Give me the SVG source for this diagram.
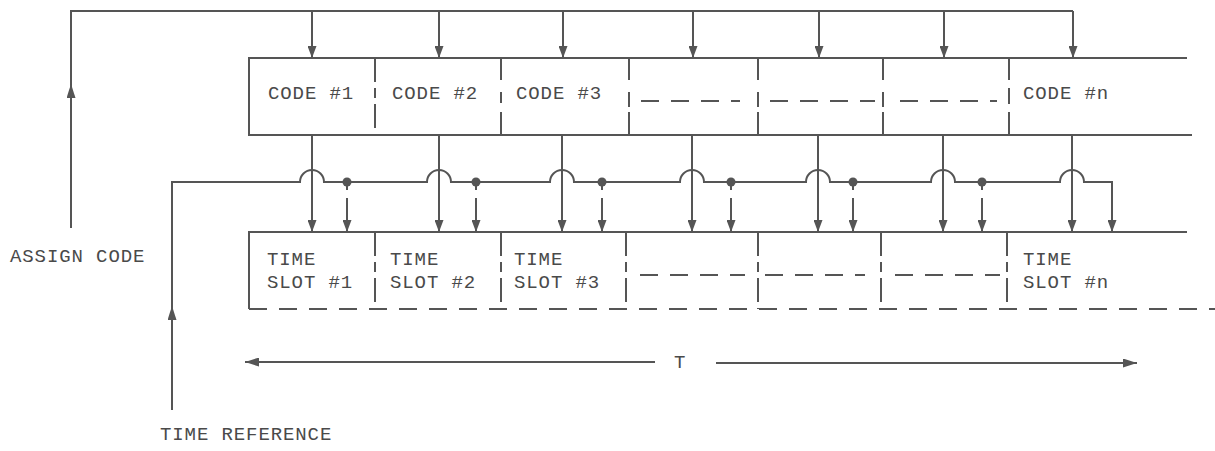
<svg xmlns="http://www.w3.org/2000/svg" width="1215" height="451" viewBox="0 0 1215 451">
<defs>
<marker id="ah" viewBox="0 0 12 9" refX="12" refY="4.5" markerWidth="12" markerHeight="9" markerUnits="userSpaceOnUse" orient="auto"><path d="M0,0 L12,4.5 L0,9 Z" fill="#555"/></marker>
<marker id="ahl" viewBox="0 0 14 9" refX="14" refY="4.5" markerWidth="14" markerHeight="9" markerUnits="userSpaceOnUse" orient="auto"><path d="M0,0 L14,4.5 L0,9 Z" fill="#555"/></marker>
<style>
.s{stroke:#555;stroke-width:2;fill:none}
.d{stroke:#555;stroke-width:2;fill:none;stroke-dasharray:18 12}
.dv{stroke:#555;stroke-width:2;fill:none;stroke-dasharray:24 6 10 6}
.t{font-family:"Liberation Mono",monospace;font-size:19px;fill:#4a4a4a;letter-spacing:0.9px}
</style>
</defs>
<g id="connectors">
<path class="s" d="M71,228 V11 H1073"/>
<path class="s" d="M71,228 V84" marker-end="url(#ahl)"/>
<path class="s" d="M312,11 V58" marker-end="url(#ah)"/>
<path class="s" d="M439,11 V58" marker-end="url(#ah)"/>
<path class="s" d="M563,11 V58" marker-end="url(#ah)"/>
<path class="s" d="M693,11 V58" marker-end="url(#ah)"/>
<path class="s" d="M819,11 V58" marker-end="url(#ah)"/>
<path class="s" d="M944,11 V58" marker-end="url(#ah)"/>
<path class="s" d="M1073,11 V58" marker-end="url(#ah)"/>
<path class="s" d="M312,136 V232" marker-end="url(#ah)"/>
<path class="s" d="M439,136 V232" marker-end="url(#ah)"/>
<path class="s" d="M562,136 V232" marker-end="url(#ah)"/>
<path class="s" d="M692,136 V232" marker-end="url(#ah)"/>
<path class="s" d="M818,136 V232" marker-end="url(#ah)"/>
<path class="s" d="M943,136 V232" marker-end="url(#ah)"/>
<path class="s" d="M1072,136 V232" marker-end="url(#ah)"/>
<path class="s" d="M172,410 V182 H300 A12,12 0 0 1 324,182 H427 A12,12 0 0 1 451,182 H550 A12,12 0 0 1 574,182 H680 A12,12 0 0 1 704,182 H806 A12,12 0 0 1 830,182 H931 A12,12 0 0 1 955,182 H1060 A12,12 0 0 1 1084,182 H1112 V232"/>
<path class="s" d="M172,410 V306" marker-end="url(#ahl)"/>
<path class="s" d="M1112,205 V232" marker-end="url(#ah)"/>
<path class="s" d="M347,182 V190 M476,182 V190 M602,182 V190 M731,182 V190 M853,182 V190 M982,182 V190"/>
<path class="s" d="M347,198 V232" marker-end="url(#ah)"/>
<path class="s" d="M476,198 V232" marker-end="url(#ah)"/>
<path class="s" d="M602,198 V232" marker-end="url(#ah)"/>
<path class="s" d="M731,198 V232" marker-end="url(#ah)"/>
<path class="s" d="M853,198 V232" marker-end="url(#ah)"/>
<path class="s" d="M982,198 V232" marker-end="url(#ah)"/>
<g fill="#555">
<circle cx="347" cy="182" r="4.5"/><circle cx="476" cy="182" r="4.5"/><circle cx="602" cy="182" r="4.5"/>
<circle cx="731" cy="182" r="4.5"/><circle cx="853" cy="182" r="4.5"/><circle cx="982" cy="182" r="4.5"/>
</g>
<path class="s" d="M655,362 H245" marker-end="url(#ahl)"/>
<path class="s" d="M716,363 H1137" marker-end="url(#ahl)"/>
<text class="t" x="674" y="368">T</text>
</g>
<g id="code-row">
<path class="s" d="M1187,58 H249 V135 H1192"/>
<path class="dv" d="M375,58 V135"/>
<path class="s" d="M501,58 V80 M501,92 V103 M501,112 V135"/>
<path class="s" d="M629,58 V80 M629,92 V107 M629,112 V135"/>
<path class="s" d="M758,58 V80 M758,92 V107 M758,112 V135"/>
<path class="s" d="M883,58 V80 M883,92 V107 M883,112 V135"/>
<path class="s" d="M1009,58 V80 M1009,88 V104 M1009,112 V135"/>
<path class="d" d="M641,101 H740 M770,101 H875 M900,101 H997"/>
<text class="t" x="268" y="99">CODE #1</text>
<text class="t" x="392" y="99">CODE #2</text>
<text class="t" x="516" y="99">CODE #3</text>
<text class="t" x="1023" y="99">CODE #n</text>
</g>
<g id="slot-row">
<path class="s" d="M1187,232 H249 V309"/>
<path class="d" d="M249,309 H1215"/>
<path class="dv" d="M375,232 V309"/>
<path class="dv" d="M501,232 V309"/>
<path class="dv" d="M626,232 V309"/>
<path class="dv" d="M758,232 V309"/>
<path class="dv" d="M881,232 V309"/>
<path class="dv" d="M1007,232 V309"/>
<path class="d" d="M640,275 H745 M765,275 H865 M895,275 H1000"/>
<text class="t" x="267" y="265">TIME</text>
<text class="t" x="267" y="288">SLOT #1</text>
<text class="t" x="390" y="265">TIME</text>
<text class="t" x="390" y="288">SLOT #2</text>
<text class="t" x="514" y="265">TIME</text>
<text class="t" x="514" y="288">SLOT #3</text>
<text class="t" x="1023" y="265">TIME</text>
<text class="t" x="1023" y="288">SLOT #n</text>
</g>
<g id="labels">
<text class="t" x="10" y="262">ASSIGN CODE</text>
<text class="t" x="160" y="440">TIME REFERENCE</text>
</g>
</svg>
